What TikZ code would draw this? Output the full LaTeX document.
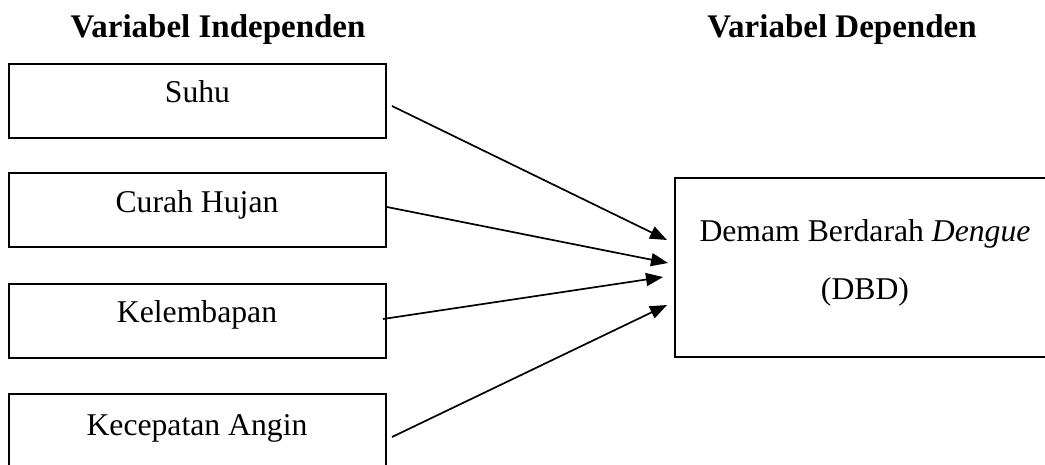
\documentclass[tikz,border=0pt]{standalone}
\usepackage{fontspec}
\setmainfont{Liberation Serif}
\usetikzlibrary{arrows.meta}
\tikzset{
  box/.style={draw, line width=1.9pt, minimum width=377pt, minimum height=74pt, inner sep=0pt, outer sep=0pt},
  bigbox/.style={draw, line width=1.9pt, minimum width=381pt, minimum height=179pt, inner sep=0pt, outer sep=0pt},
  lbl/.style={anchor=base, inner sep=0pt, font=\fontsize{31.7}{38}\selectfont},
  title/.style={anchor=base, inner sep=0pt, font=\fontsize{33}{40}\selectfont\bfseries},
  arr/.style={line width=1.7pt, -{Triangle[length=17pt,width=13pt]}}
}
\begin{document}
\begin{tikzpicture}[x=1pt,y=-1pt]
\useasboundingbox (0,0) rectangle (1045,465);
\clip (0,0) rectangle (1045,465);
\node[title] (tind) at (218,38) {Variabel Independen};
\node[title] (tdep) at (842,38) {Variabel Dependen};
\node[box] (suhu) at (197.5,101) {};
\node[box] (curah) at (197.5,210) {};
\node[box] (lembab) at (197.5,321) {};
\node[box] (angin) at (197.5,431) {};
\node[bigbox] (dbd) at (865.5,267.5) {};
\node[lbl] (lsuhu) at (197.5,103) {Suhu};
\node[lbl] (lcurah) at (197,213) {Curah Hujan};
\node[lbl] (llembab) at (197,323) {Kelembapan};
\node[lbl] (langin) at (197,435) {Kecepatan Angin};
\node[lbl] (ldbda) at (865,242) {Demam Berdarah \textit{Dengue}};
\node[lbl] (ldbdb) at (865,300) {(DBD)};
\draw[arr] ([xshift=6pt,yshift=-5pt]suhu.east) -- ([xshift=-8pt,yshift=27.5pt]dbd.west);
\draw[arr] ([xshift=1pt,yshift=3pt]curah.east) -- ([xshift=-7pt,yshift=4.5pt]dbd.west);
\draw[arr] ([xshift=-3pt,yshift=2pt]lembab.east) -- ([xshift=-12pt,yshift=-9.5pt]dbd.west);
\draw[arr] ([xshift=6pt,yshift=-6pt]angin.east) -- ([xshift=-8pt,yshift=-37.5pt]dbd.west);
\end{tikzpicture}
\end{document}
